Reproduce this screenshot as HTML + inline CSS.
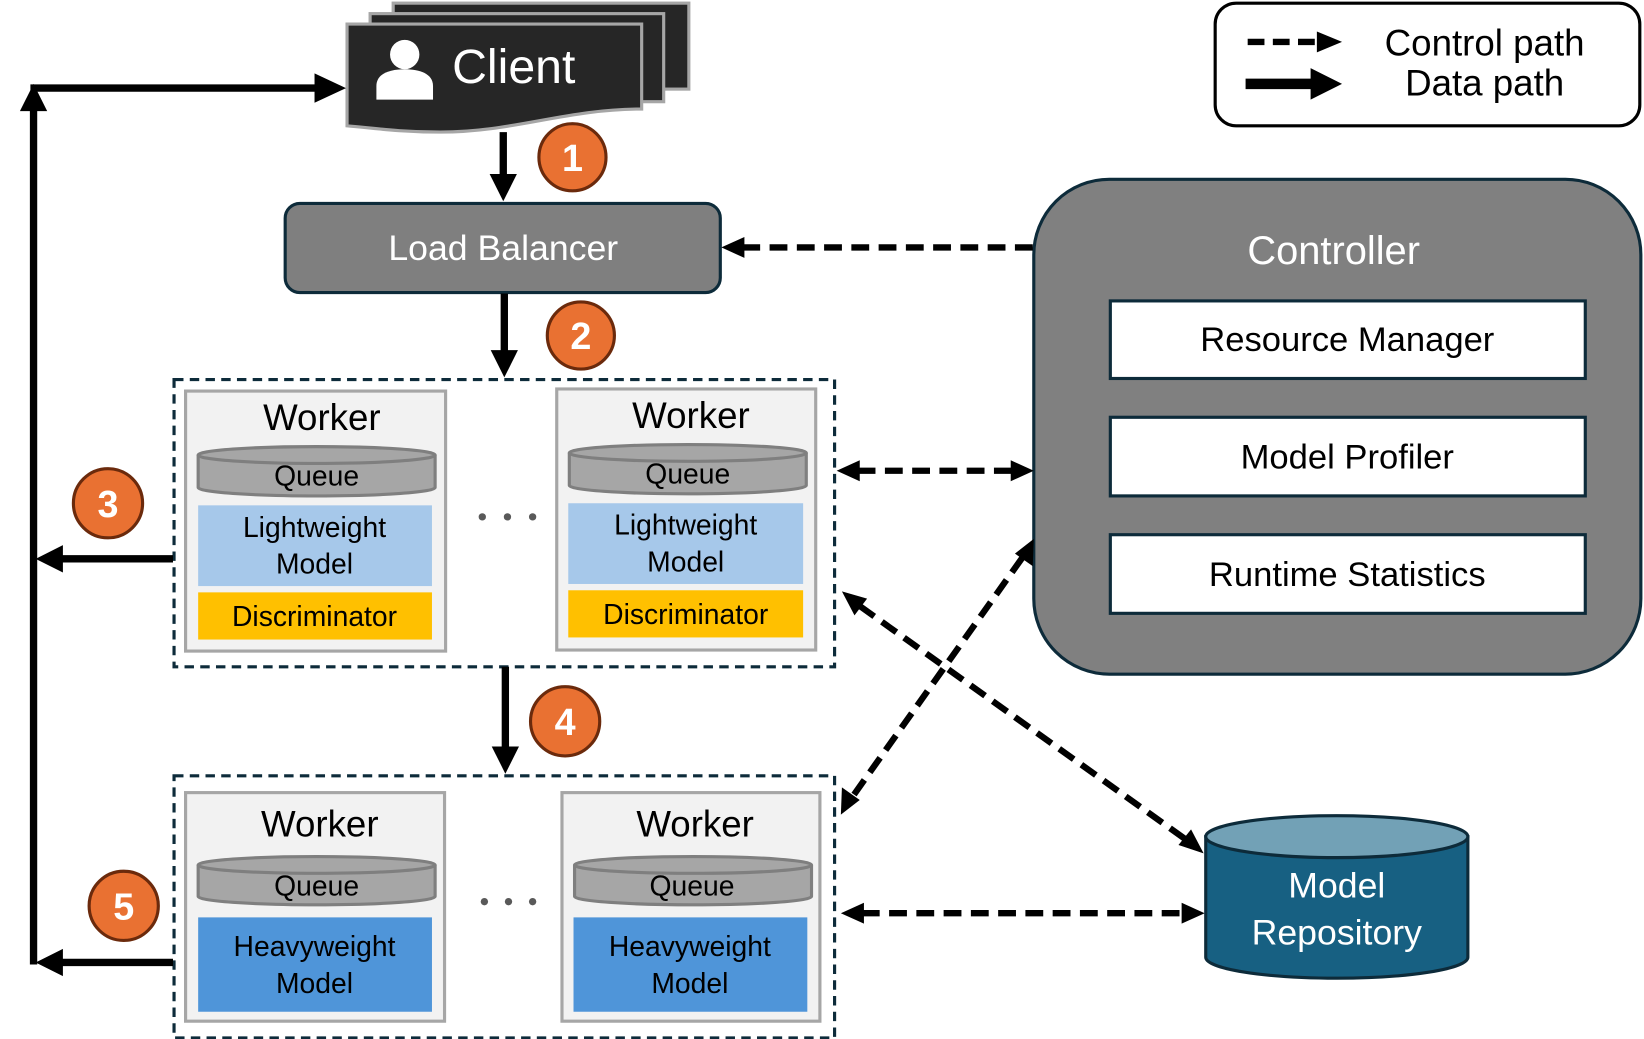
<!DOCTYPE html>
<html><head><meta charset="utf-8"><style>
html,body{margin:0;padding:0;background:#fff;}
svg{display:block;}
text{font-family:"Liberation Sans",sans-serif;}
</style></head><body>
<svg width="1644" height="1039" viewBox="0 0 1568 991" preserveAspectRatio="none" xmlns="http://www.w3.org/2000/svg">

<!-- Legend -->
<rect x="1159" y="3" width="405" height="117" rx="20" fill="#fff" stroke="#000" stroke-width="3"/>
<line x1="1190" y1="40" x2="1258" y2="40" stroke="#000" stroke-width="6" stroke-dasharray="16,8"/>
<path d="M1256,30 L1280,40 L1256,50 z"/>
<line x1="1188" y1="80" x2="1252" y2="80" stroke="#000" stroke-width="10"/>
<path d="M1250,65 L1280,80 L1250,95 z"/>
<text x="1416" y="53" font-size="35" text-anchor="middle">Control path</text>
<text x="1416" y="91" font-size="35" text-anchor="middle">Data path</text>

<!-- Client stack -->
<rect x="375" y="3" width="282" height="82" fill="#262626" stroke="#a6a6a6" stroke-width="3"/>
<rect x="353" y="13" width="280" height="84" fill="#262626" stroke="#a6a6a6" stroke-width="3"/>
<path d="M331,23 L612,23 L612,104 C540,104 490,126 420,126 C380,126 355,122 331,120 Z" fill="#262626" stroke="#a6a6a6" stroke-width="3"/>
<circle cx="386" cy="52" r="14" fill="#fff"/>
<path d="M359,95 L359,82 C359,70 372,66 386,66 C400,66 413,70 413,82 L413,95 Z" fill="#fff"/>
<text x="490" y="79" font-size="46" fill="#fff" text-anchor="middle">Client</text>

<!-- left data loop -->
<line x1="32" y1="920" x2="32" y2="105" stroke="#000" stroke-width="7"/>
<path d="M19,106 L32,80 L45,106 z"/>
<line x1="29" y1="84" x2="302" y2="84" stroke="#000" stroke-width="7"/>
<path d="M300,70 L330,84 L300,98 z"/>

<!-- Arrow 1 -->
<line x1="480" y1="126" x2="480" y2="168" stroke="#000" stroke-width="7"/>
<path d="M467,166 L480,192 L493,166 z"/>
<circle cx="546" cy="150" r="32" fill="#e97132" stroke="#6b2a0c" stroke-width="3"/>
<text x="546" y="163" font-size="36" font-weight="bold" fill="#fff" text-anchor="middle">1</text>

<!-- Load Balancer -->
<rect x="272" y="194" width="415" height="85" rx="14" fill="#7f7f7f" stroke="#0d2b3a" stroke-width="3"/>
<text x="480" y="248" font-size="34" fill="#fff" text-anchor="middle">Load Balancer</text>

<!-- Arrow 2 -->
<line x1="481" y1="280" x2="481" y2="336" stroke="#000" stroke-width="7"/>
<path d="M468,334 L481,360 L494,334 z"/>
<circle cx="554" cy="320" r="32" fill="#e97132" stroke="#6b2a0c" stroke-width="3"/>
<text x="554" y="333" font-size="36" font-weight="bold" fill="#fff" text-anchor="middle">2</text>

<!-- Controller -->
<rect x="986" y="171" width="579" height="472" rx="72" fill="#808080" stroke="#0d2b3a" stroke-width="3"/>
<text x="1272" y="252" font-size="38" fill="#fff" text-anchor="middle">Controller</text>
<rect x="1059" y="287" width="453" height="74" fill="#fff" stroke="#0d2b3a" stroke-width="3"/>
<text x="1285" y="335" font-size="33" text-anchor="middle">Resource Manager</text>
<rect x="1059" y="398" width="453" height="75" fill="#fff" stroke="#0d2b3a" stroke-width="3"/>
<text x="1285" y="447" font-size="33" text-anchor="middle">Model Profiler</text>
<rect x="1059" y="510" width="453" height="75" fill="#fff" stroke="#0d2b3a" stroke-width="3"/>
<text x="1285" y="559" font-size="33" text-anchor="middle">Runtime Statistics</text>

<!-- control arrows -->
<g stroke="#000" stroke-width="6" stroke-dasharray="17,9" fill="none">
<line x1="985" y1="236" x2="708" y2="236"/>
<line x1="818" y1="449" x2="966" y2="449"/>
<line x1="975" y1="532" x2="813" y2="760"/>
<line x1="820" y1="578" x2="1130" y2="800"/>
<line x1="822" y1="871" x2="1128" y2="871"/>
</g>
<path d="M688,236 L710,226 L710,246 z"/>
<path d="M798,449 L820,439 L820,459 z"/>
<path d="M986,449 L964,439 L964,459 z"/>
<path d="M986,514 L985,540 L968,528 z"/>
<path d="M802,777 L803,751 L820,763 z"/>
<path d="M803,564 L827,571 L815,587 z"/>
<path d="M1148,814 L1124,806 L1136,791 z"/>
<path d="M802,871 L824,861 L824,881 z"/>
<path d="M1149,871 L1127,861 L1127,881 z"/>

<!-- Worker group 1 -->
<rect x="166" y="362" width="630" height="274" fill="none" stroke="#0d2b3a" stroke-width="3" stroke-dasharray="9,6"/>
<g>
<rect x="177" y="373" width="248" height="248" fill="#f2f2f2" stroke="#a6a6a6" stroke-width="3"/>
<text x="307" y="410" font-size="35" text-anchor="middle">Worker</text>
<path d="M189,434 L189,465 A113,8 0 0 0 415,465 L415,434" fill="#a6a6a6" stroke="#7f7f7f" stroke-width="3"/>
<ellipse cx="302" cy="434" rx="113" ry="8" fill="#a6a6a6" stroke="#7f7f7f" stroke-width="3"/>
<text x="302" y="463" font-size="27" text-anchor="middle">Queue</text>
<rect x="189" y="482" width="223" height="77" fill="#a6c8ea"/>
<text x="300" y="512" font-size="27" text-anchor="middle">Lightweight</text>
<text x="300" y="547" font-size="27" text-anchor="middle">Model</text>
<rect x="189" y="565" width="223" height="45" fill="#ffc000"/>
<text x="300" y="597" font-size="27" text-anchor="middle">Discriminator</text>
</g>
<g>
<rect x="531" y="371" width="247" height="249" fill="#f2f2f2" stroke="#a6a6a6" stroke-width="3"/>
<text x="659" y="408" font-size="35" text-anchor="middle">Worker</text>
<path d="M543,432 L543,463 A113,8 0 0 0 769,463 L769,432" fill="#a6a6a6" stroke="#7f7f7f" stroke-width="3"/>
<ellipse cx="656" cy="432" rx="113" ry="8" fill="#a6a6a6" stroke="#7f7f7f" stroke-width="3"/>
<text x="656" y="461" font-size="27" text-anchor="middle">Queue</text>
<rect x="542" y="480" width="224" height="77" fill="#a6c8ea"/>
<text x="654" y="510" font-size="27" text-anchor="middle">Lightweight</text>
<text x="654" y="545" font-size="27" text-anchor="middle">Model</text>
<rect x="542" y="563" width="224" height="45" fill="#ffc000"/>
<text x="654" y="595" font-size="27" text-anchor="middle">Discriminator</text>
</g>
<circle cx="460" cy="493" r="3.5" fill="#595959"/><circle cx="484" cy="493" r="3.5" fill="#595959"/><circle cx="508" cy="493" r="3.5" fill="#595959"/>

<!-- Arrow 3 -->
<line x1="165" y1="533" x2="58" y2="533" stroke="#000" stroke-width="7"/>
<path d="M60,520 L34,533 L60,546 z"/>
<circle cx="103" cy="480" r="33" fill="#e97132" stroke="#6b2a0c" stroke-width="3"/>
<text x="103" y="493" font-size="36" font-weight="bold" fill="#fff" text-anchor="middle">3</text>

<!-- Arrow 4 -->
<line x1="482" y1="636" x2="482" y2="714" stroke="#000" stroke-width="7"/>
<path d="M469,712 L482,738 L495,712 z"/>
<circle cx="539" cy="688" r="33" fill="#e97132" stroke="#6b2a0c" stroke-width="3"/>
<text x="539" y="701" font-size="36" font-weight="bold" fill="#fff" text-anchor="middle">4</text>

<!-- Worker group 2 -->
<rect x="166" y="740" width="630" height="250" fill="none" stroke="#0d2b3a" stroke-width="3" stroke-dasharray="9,6"/>
<g>
<rect x="177" y="756" width="247" height="218" fill="#f2f2f2" stroke="#a6a6a6" stroke-width="3"/>
<text x="305" y="798" font-size="35" text-anchor="middle">Worker</text>
<path d="M189,825 L189,855 A113,8 0 0 0 415,855 L415,825" fill="#a6a6a6" stroke="#7f7f7f" stroke-width="3"/>
<ellipse cx="302" cy="825" rx="113" ry="8" fill="#a6a6a6" stroke="#7f7f7f" stroke-width="3"/>
<text x="302" y="854" font-size="27" text-anchor="middle">Queue</text>
<rect x="189" y="875" width="223" height="90" fill="#4f95d9"/>
<text x="300" y="912" font-size="27" text-anchor="middle">Heavyweight</text>
<text x="300" y="947" font-size="27" text-anchor="middle">Model</text>
</g>
<g>
<rect x="536" y="756" width="246" height="218" fill="#f2f2f2" stroke="#a6a6a6" stroke-width="3"/>
<text x="663" y="798" font-size="35" text-anchor="middle">Worker</text>
<path d="M548,825 L548,855 A113,8 0 0 0 774,855 L774,825" fill="#a6a6a6" stroke="#7f7f7f" stroke-width="3"/>
<ellipse cx="661" cy="825" rx="113" ry="8" fill="#a6a6a6" stroke="#7f7f7f" stroke-width="3"/>
<text x="660" y="854" font-size="27" text-anchor="middle">Queue</text>
<rect x="547" y="875" width="223" height="90" fill="#4f95d9"/>
<text x="658" y="912" font-size="27" text-anchor="middle">Heavyweight</text>
<text x="658" y="947" font-size="27" text-anchor="middle">Model</text>
</g>
<circle cx="462" cy="860" r="3.5" fill="#595959"/><circle cx="485" cy="860" r="3.5" fill="#595959"/><circle cx="508" cy="860" r="3.5" fill="#595959"/>

<!-- Arrow 5 -->
<line x1="165" y1="918" x2="58" y2="918" stroke="#000" stroke-width="7"/>
<path d="M60,905 L34,918 L60,931 z"/>
<circle cx="118" cy="864" r="33" fill="#e97132" stroke="#6b2a0c" stroke-width="3"/>
<text x="118" y="877" font-size="36" font-weight="bold" fill="#fff" text-anchor="middle">5</text>

<!-- Model Repository -->
<path d="M1150,798 L1150,913 A125,20 0 0 0 1400,913 L1400,798 Z" fill="#176082" stroke="#0d2b3a" stroke-width="3"/>
<ellipse cx="1275" cy="798" rx="125" ry="20" fill="#72a1b6" stroke="#0d2b3a" stroke-width="3"/>
<text x="1275" y="856" font-size="34" fill="#fff" text-anchor="middle">Model</text>
<text x="1275" y="901" font-size="34" fill="#fff" text-anchor="middle">Repository</text>
</svg>
</body></html>
